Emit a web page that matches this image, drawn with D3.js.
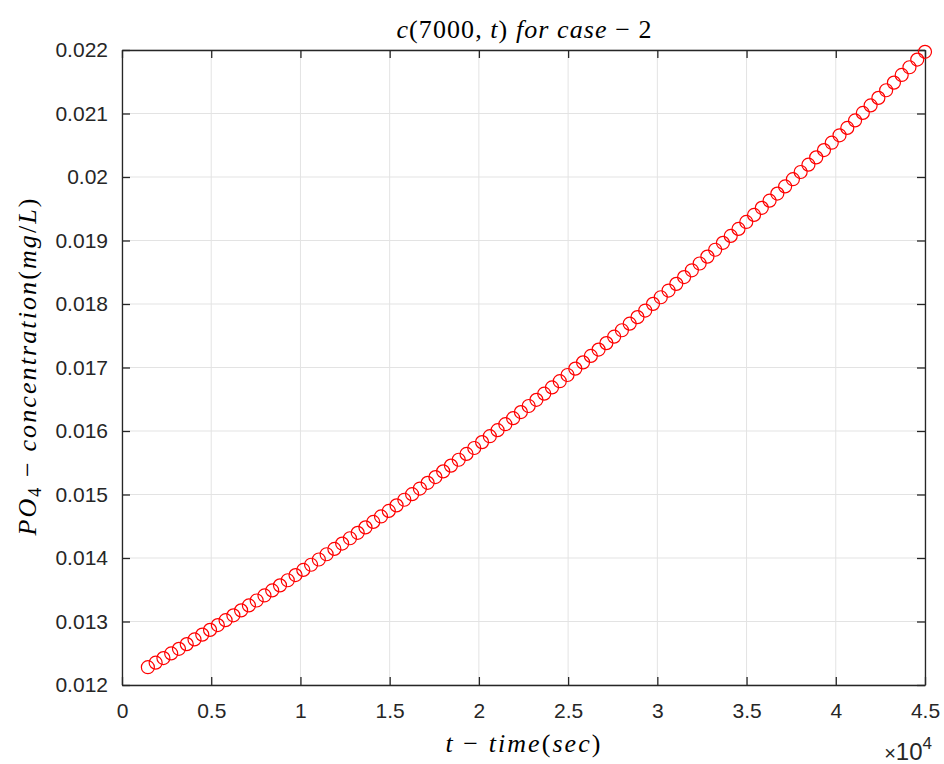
<!DOCTYPE html>
<html lang="en">
<head>
<meta charset="UTF-8">
<title>c(7000,t) for case-2</title>
<script src="https://cdn.jsdelivr.net/npm/d3@7"></script>
<style>
  body { margin: 0; background: #fff; }
  .tick text { font-family: "Liberation Sans", Arial, sans-serif; font-size: 21px; fill: #262626; }
  .tex { font-family: "Liberation Serif", "DejaVu Serif", serif; fill: #000; }
</style>
</head>
<body>
<svg width="944" height="764"></svg>
<script>
// time (sec)
const times = [1450, 1886, 2321, 2757, 3192, 3628, 4063, 4499, 4934, 5370,
  5805, 6241, 6676, 7112, 7547, 7983, 8418, 8854, 9289, 9725,
  10160, 10596, 11031, 11467, 11902, 12338, 12773, 13209, 13644, 14080,
  14515, 14951, 15386, 15822, 16257, 16693, 17128, 17564, 17999, 18435,
  18870, 19306, 19741, 20177, 20612, 21048, 21483, 21919, 22354, 22790,
  23225, 23661, 24096, 24532, 24967, 25403, 25838, 26274, 26709, 27145,
  27580, 28016, 28451, 28887, 29322, 29758, 30193, 30629, 31064, 31500,
  31935, 32371, 32806, 33242, 33677, 34113, 34548, 34984, 35419, 35855,
  36290, 36726, 37161, 37597, 38032, 38468, 38903, 39339, 39774, 40210,
  40645, 41081, 41516, 41952, 42387, 42823, 43258, 43694, 44129, 44565, 45000];

// PO4 concentration (mg/L)
const conc = [0.012280, 0.012352, 0.012424, 0.012497, 0.012570, 0.012644, 0.012718, 0.012793, 0.012868, 0.012944,
  0.013021, 0.013097, 0.013175, 0.013253, 0.013331, 0.013410, 0.013489, 0.013569, 0.013650, 0.013731,
  0.013812, 0.013894, 0.013976, 0.014059, 0.014143, 0.014227, 0.014311, 0.014396, 0.014482, 0.014568,
  0.014654, 0.014741, 0.014829, 0.014917, 0.015005, 0.015094, 0.015184, 0.015274, 0.015364, 0.015455,
  0.015547, 0.015639, 0.015732, 0.015825, 0.015918, 0.016013, 0.016107, 0.016202, 0.016298, 0.016394,
  0.016491, 0.016588, 0.016686, 0.016784, 0.016882, 0.016982, 0.017081, 0.017182, 0.017282, 0.017384,
  0.017485, 0.017587, 0.017690, 0.017793, 0.017897, 0.018002, 0.018106, 0.018212, 0.018317, 0.018424,
  0.018531, 0.018638, 0.018746, 0.018854, 0.018963, 0.019072, 0.019182, 0.019292, 0.019403, 0.019515,
  0.019627, 0.019739, 0.019852, 0.019965, 0.020079, 0.020194, 0.020309, 0.020424, 0.020540, 0.020657,
  0.020773, 0.020891, 0.021009, 0.021127, 0.021246, 0.021366, 0.021486, 0.021607, 0.021728, 0.021849, 0.021971];

const xTicks = [0, 5000, 10000, 15000, 20000, 25000, 30000, 35000, 40000, 45000];
const xTickLabels = ["0", "0.5", "1", "1.5", "2", "2.5", "3", "3.5", "4", "4.5"];
const yTicks = [0.012, 0.013, 0.014, 0.015, 0.016, 0.017, 0.018, 0.019, 0.020, 0.021, 0.022];
const yTickLabels = ["0.012", "0.013", "0.014", "0.015", "0.016", "0.017", "0.018", "0.019", "0.02", "0.021", "0.022"];

const margin = {left: 122, right: 19, top: 50, bottom: 79};
const W = 944, H = 764;
const svg = d3.select("svg");

const x = d3.scaleLinear().domain([0, 45000]).range([margin.left, W - margin.right]);
const y = d3.scaleLinear().domain([0.012, 0.022]).range([H - margin.bottom, margin.top]);

// grid
svg.append("g").selectAll("line").data(xTicks).join("line")
  .attr("x1", d => x(d)).attr("x2", d => x(d))
  .attr("y1", y(0.012)).attr("y2", y(0.022))
  .attr("stroke", "#e3e3e3").attr("stroke-width", 1);
svg.append("g").selectAll("line").data(yTicks).join("line")
  .attr("y1", d => y(d)).attr("y2", d => y(d))
  .attr("x1", x(0)).attr("x2", x(45000))
  .attr("stroke", "#e3e3e3").attr("stroke-width", 1);

// axes (MATLAB style, inward ticks, box)
const tl = 8;
const xAxis = d3.axisBottom(x).tickValues(xTicks).tickFormat((d, i) => xTickLabels[i])
  .tickSizeInner(-tl).tickSizeOuter(0).tickPadding(18);
const yAxis = d3.axisLeft(y).tickValues(yTicks).tickFormat((d, i) => yTickLabels[i])
  .tickSizeInner(-tl).tickSizeOuter(0).tickPadding(14);
const xTop = d3.axisTop(x).tickValues(xTicks).tickFormat("").tickSizeInner(-tl).tickSizeOuter(0);
const yRight = d3.axisRight(y).tickValues(yTicks).tickFormat("").tickSizeInner(-tl).tickSizeOuter(0);

const gx = svg.append("g").attr("transform", `translate(0,${y(0.012)})`).call(xAxis);
const gy = svg.append("g").attr("transform", `translate(${x(0)},0)`).call(yAxis);
const gt = svg.append("g").attr("transform", `translate(0,${y(0.022)})`).call(xTop);
const gr = svg.append("g").attr("transform", `translate(${x(45000)},0)`).call(yRight);
[gx, gy, gt, gr].forEach(g => {
  g.select(".domain").attr("stroke", "#262626").attr("stroke-width", 1.3);
  g.selectAll(".tick line").attr("stroke", "#262626").attr("stroke-width", 1.3);
});

// data markers
svg.append("g").selectAll("circle").data(times).join("circle")
  .attr("cx", d => x(d))
  .attr("cy", (d, i) => y(conc[i]))
  .attr("r", 6.5)
  .attr("fill", "none")
  .attr("stroke", "#ff0000")
  .attr("stroke-width", 1.2);

// title
const title = svg.append("text").attr("class", "tex")
  .attr("x", 524).attr("y", 38).attr("text-anchor", "middle").attr("font-size", 26)
  .attr("textLength", 255).attr("lengthAdjust", "spacing");
title.append("tspan").attr("font-style", "italic").text("c");
title.append("tspan").text("(7000, ");
title.append("tspan").attr("font-style", "italic").text("t");
title.append("tspan").text(") ");
title.append("tspan").attr("font-style", "italic").text("for case");
title.append("tspan").text(" \u2212 2");

// x label
const xl = svg.append("text").attr("class", "tex")
  .attr("x", 523).attr("y", 752).attr("text-anchor", "middle").attr("font-size", 26)
  .attr("textLength", 155).attr("lengthAdjust", "spacing");
xl.append("tspan").attr("font-style", "italic").text("t");
xl.append("tspan").text(" \u2212 ");
xl.append("tspan").attr("font-style", "italic").text("time");
xl.append("tspan").text("(");
xl.append("tspan").attr("font-style", "italic").text("sec");
xl.append("tspan").text(")");

// exponent
const ex = svg.append("text").attr("x", 932).attr("y", 760).attr("text-anchor", "end")
  .attr("font-family", "Liberation Sans, Arial, sans-serif").attr("font-size", 24).attr("fill", "#262626");
ex.append("tspan").attr("font-size", 20).text("\u00d7");
ex.append("tspan").text("10");
ex.append("tspan").attr("font-size", 17).attr("dy", -11).text("4");

// y label
const yl = svg.append("text").attr("class", "tex")
  .attr("transform", "translate(36,367) rotate(-90)").attr("text-anchor", "middle").attr("font-size", 26)
  .attr("textLength", 337).attr("lengthAdjust", "spacing");
yl.append("tspan").attr("font-style", "italic").text("PO");
yl.append("tspan").attr("font-size", 18).attr("dy", 5).text("4");
yl.append("tspan").attr("dy", -5).text(" \u2212 ");
yl.append("tspan").attr("font-style", "italic").text("concentration");
yl.append("tspan").text("(");
yl.append("tspan").attr("font-style", "italic").text("mg");
yl.append("tspan").text("/");
yl.append("tspan").attr("font-style", "italic").text("L");
yl.append("tspan").text(")");
</script>
</body>
</html>
